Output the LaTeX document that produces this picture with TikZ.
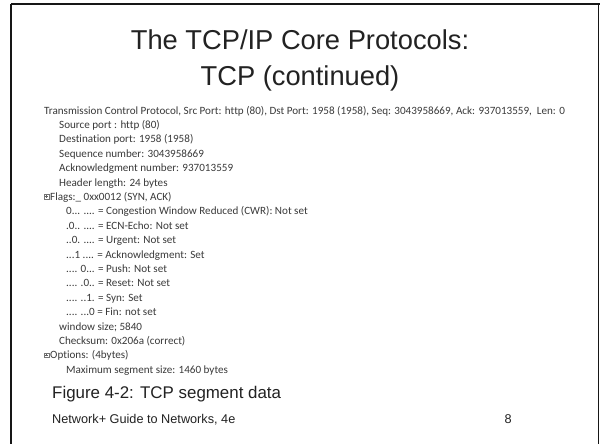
\documentclass[tikz,border=0pt]{standalone}
\usepackage{fontspec}
\setmainfont{Carlito}[Ligatures=NoCommon]
\newfontfamily\slidefont{Liberation Sans}
\definecolor{framecol}{HTML}{161616}
\definecolor{titlecol}{HTML}{222222}
\definecolor{bodycol}{HTML}{3A3A3A}
\tikzset{
  slidetitle/.style={font=\slidefont\fontsize{27.3}{32}\selectfont, text=titlecol, inner sep=0pt, anchor=base},
  capture/.style={font=\fontsize{11.1}{13}\selectfont, text=bodycol, inner sep=0pt, anchor=base west},
  caption/.style={font=\slidefont\fontsize{16.9}{20}\selectfont, text=titlecol, inner sep=0pt, anchor=base west},
  footer/.style={font=\slidefont\fontsize{12.7}{15}\selectfont, text=titlecol, inner sep=0pt},
  treebox/.style={draw=bodycol!70, line width=0.4pt, minimum size=4.4pt, inner sep=0pt,
    path picture={\draw[bodycol!80, line width=0.4pt]
      ([xshift=1pt]path picture bounding box.west) -- ([xshift=-1pt]path picture bounding box.east)
      ([yshift=1pt]path picture bounding box.south) -- ([yshift=-1pt]path picture bounding box.north);}},
  frameline/.style={draw=framecol}
}
\begin{document}
\begin{tikzpicture}[x=1pt, y=-1pt]
\useasboundingbox (0,0) rectangle (600,444);
\fill[white] (0,0) rectangle (600,444);

% slide frame: heavy top and left edges, thin right edge
\draw[frameline, line width=2.4pt] (11,4) -- (600,4);
\draw[frameline, line width=2.4pt] (11,4) -- (11,444);
\draw[frameline, line width=1.2pt] (598.3,4) -- (598.3,444);

% title
\node[slidetitle] (title1) at (300,50) {The TCP/IP Core Protocols:};
\node[slidetitle] (title2) at (300,85) {TCP (continued)};

% packet capture listing (first line cut off at the right edge of the capture)
\begin{scope}
\clip (0,100) rectangle (564,125);
\node[capture] (l0) at (44,114) {Transmission Control Protocol, Src Port: http (80), Dst Port: 1958 (1958), Seq: 3043958669, Ack: 937013559,\ \ Len: 0};
\end{scope}
\node[capture] (l1)  at (59,128.4) {Source port : http (80)};
\node[capture] (l2)  at (59,142.8) {Destination port: 1958 (1958)};
\node[capture] (l3)  at (59,157.2) {Sequence number: 3043958669};
\node[capture] (l4)  at (59,171.6) {Acknowledgment number: 937013559};
\node[capture] (l5)  at (59,186.0) {Header length: 24 bytes};
\node[treebox] (b6)  at (46.5,196.6) {};
\node[capture] (l6)  at (50,200.4) {Flags:\_ 0xx0012 (SYN, ACK)};
\node[capture] (l7)  at (66,214.8) {0... .... = Congestion Window Reduced (CWR): Not set};
\node[capture] (l8)  at (66,229.2) {.0.. .... = ECN-Echo: Not set};
\node[capture] (l9)  at (66,243.6) {..0. .... = Urgent: Not set};
\node[capture] (l10) at (66,258.0) {...1 .... = Acknowledgment: Set};
\node[capture] (l11) at (66,272.4) {.... 0... = Push: Not set};
\node[capture] (l12) at (66,286.8) {.... .0.. = Reset: Not set};
\node[capture] (l13) at (66,301.2) {.... ..1. = Syn: Set};
\node[capture] (l14) at (66,315.6) {.... ...0 = Fin: not set};
\node[capture] (l15) at (59,330.0) {window size; 5840};
\node[capture] (l16) at (59,344.4) {Checksum: 0x206a (correct)};
\node[treebox] (b17) at (46.5,355.0) {};
\node[capture] (l17) at (50,358.8) {Options: (4bytes)};
\node[capture] (l18) at (66,373.2) {Maximum segment size: 1460 bytes};

% figure caption and footer
\node[caption] (fig) at (52,398) {Figure 4-2: TCP segment data};
\node[footer, anchor=base west] (book) at (52,423) {Network+ Guide to Networks, 4e};
\node[footer, anchor=base east] (page) at (512,423) {8};
\end{tikzpicture}
\end{document}
